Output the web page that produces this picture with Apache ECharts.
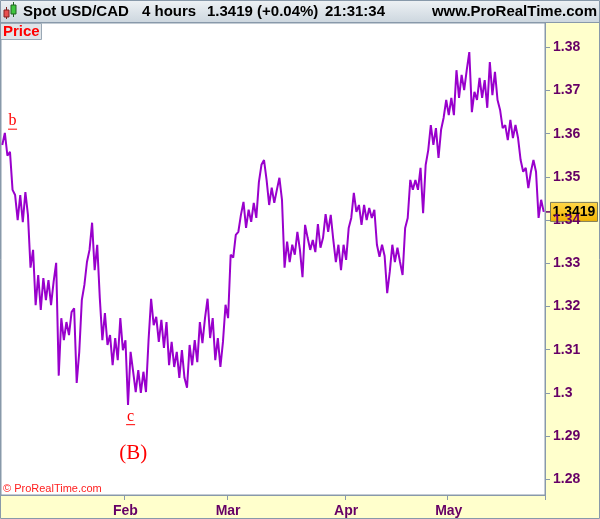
<!DOCTYPE html>
<html><head><meta charset="utf-8">
<script src="https://cdn.jsdelivr.net/npm/echarts@6/dist/echarts.min.js"></script>
<style>html,body{margin:0;padding:0;background:#ffffcc}#c{width:600px;height:519px}</style>
</head><body><div id="c"></div>
<script>
// Trading-day calendar (weekdays only), two half-day slots per day
const firstDay = [2016, 11, 29];
const lastDay = [2017, 4, 25];
const monthStarts = ['2017-02-01', '2017-03-01', '2017-04-03', '2017-05-01'];
const monthLabels = ['Feb', 'Mar', 'Apr', 'May'];
const lastPrice = 1.3419;

// Half-day price readings (alternating local highs / lows), Spot USD/CAD
const prices = [
1.3574,1.3602,1.3549,1.3558,1.3470,1.3458,1.3400,1.3458,1.3395,1.3465,
1.3412,1.3290,1.3331,1.3203,1.3273,1.3192,1.3266,1.3215,1.3261,1.3203,
1.3257,1.3301,1.3040,1.3173,1.3122,1.3164,1.3134,1.3187,1.3196,1.3023,
1.3095,1.3215,1.3250,1.3303,1.3331,1.3394,1.3284,1.3343,1.3220,1.3122,
1.3185,1.3111,1.3134,1.3064,1.3127,1.3076,1.3173,1.3099,1.3122,1.2972,
1.3095,1.3049,1.3002,1.3053,1.3000,1.3049,1.3002,1.3122,1.3218,1.3157,
1.3176,1.3118,1.3169,1.3104,1.3164,1.3064,1.3118,1.3060,1.3095,1.3035,
1.3099,1.3035,1.3012,1.3111,1.3064,1.3122,1.3071,1.3164,1.3115,1.3173,
1.3218,1.3127,1.3173,1.3076,1.3127,1.3060,1.3118,1.3204,1.3173,1.3320,
1.3313,1.3366,1.3373,1.3412,1.3442,1.3382,1.3424,1.3396,1.3440,1.3405,
1.3488,1.3528,1.3539,1.3493,1.3435,1.3475,1.3440,1.3470,1.3498,1.3447,
1.3290,1.3350,1.3303,1.3343,1.3320,1.3373,1.3331,1.3268,1.3389,1.3359,
1.3331,1.3354,1.3326,1.3391,1.3336,1.3359,1.3414,1.3373,1.3412,1.3354,
1.3303,1.3343,1.3284,1.3343,1.3308,1.3382,1.3405,1.3463,1.3419,1.3435,
1.3389,1.3435,1.3400,1.3428,1.3405,1.3424,1.3343,1.3315,1.3343,1.3317,
1.3231,1.3280,1.3343,1.3303,1.3336,1.3303,1.3273,1.3382,1.3405,1.3493,
1.3470,1.3493,1.3470,1.3521,1.3416,1.3528,1.3562,1.3620,1.3574,1.3613,
1.3544,1.3609,1.3637,1.3678,1.3643,1.3683,1.3643,1.3747,1.3683,1.3736,
1.3701,1.3747,1.3789,1.3650,1.3697,1.3678,1.3729,1.3683,1.3724,1.3660,
1.3766,1.3689,1.3743,1.3678,1.3655,1.3613,1.3620,1.3585,1.3632,1.3590,
1.3620,1.3590,1.3539,1.3512,1.3521,1.3474,1.3512,1.3539,1.3512,1.3405,
1.3447,1.3419
];

const categories = [];
(function(){
  let d = new Date(Date.UTC(firstDay[0], firstDay[1], firstDay[2]));
  const end = new Date(Date.UTC(lastDay[0], lastDay[1], lastDay[2]));
  while (d <= end) {
    const wd = d.getUTCDay();
    if (wd !== 0 && wd !== 6) {
      const s = d.toISOString().slice(0, 10);
      categories.push(s + ' 00:00', s + ' 12:00');
    }
    d = new Date(d.getTime() + 86400000);
  }
})();
const isMonthStart = (idx, val) => monthStarts.indexOf(val.slice(0, 10)) >= 0 && val.slice(11) === '00:00';

const FONT = '"Liberation Sans", Arial, sans-serif';
const chart = echarts.init(document.getElementById('c'), null, {renderer: 'canvas'});
const option = {
  animation: false,
  backgroundColor: '#ffffcc',
  grid: {left: 1, top: 23, right: 55, bottom: 24, show: true, backgroundColor: '#ffffff', borderColor: '#8899aa', borderWidth: 1},
  xAxis: {
    type: 'category', data: categories, boundaryGap: true,
    axisLine: {show: true, lineStyle: {color: '#8899aa'}},
    axisTick: {show: true, interval: isMonthStart, length: 5, lineStyle: {color: '#8899aa'}},
    axisLabel: {interval: isMonthStart, margin: 9, color: '#660066', fontWeight: 'bold', fontSize: 14, fontFamily: FONT,
      formatter: v => monthLabels[monthStarts.indexOf(v.slice(0, 10))] || ''},
    splitLine: {show: false}
  },
  yAxis: {
    type: 'value', position: 'right', min: 1.27637, max: 1.385625, splitNumber: 11,
    axisLine: {show: true, lineStyle: {color: '#8899aa'}},
    axisTick: {show: true, length: 5, lineStyle: {color: '#8899aa'}},
    axisLabel: {showMinLabel: false, showMaxLabel: false, margin: 8, color: '#660066', fontWeight: 'bold', fontSize: 14, fontFamily: FONT,
      formatter: v => String(+v.toFixed(2))},
    splitLine: {show: false}
  },
  series: [{
    type: 'line', data: prices, symbol: 'none', showSymbol: false,
    lineStyle: {color: '#9900cc', width: 2}
  }]
};
chart.setOption(option);

function px(i, v) { return chart.convertToPixel({seriesIndex: 0}, [i, v]); }
const pLast = px(prices.length - 1, lastPrice);
const pb = px(4, 1.3629);
const pc = px(50, 1.2945);
const pB = px(51, 1.2859);

const hdrFont = 'bold 15px ' + FONT;
chart.setOption({
  graphic: [
    {type: 'rect', shape: {x: 0, y: 0, width: 600, height: 22}, style: {fill: new echarts.graphic.LinearGradient(0, 0, 0, 1, [{offset: 0, color: '#eef2f5'}, {offset: 1, color: '#cdd7df'}])}},
    {type: 'line', shape: {x1: 0, y1: 22.5, x2: 600, y2: 22.5}, style: {stroke: '#8899aa', lineWidth: 1}},
    // candle icon
    {type: 'line', shape: {x1: 6.5, y1: 7, x2: 6.5, y2: 19}, style: {stroke: '#802020', lineWidth: 1}},
    {type: 'rect', shape: {x: 4, y: 10, width: 5, height: 7}, style: {fill: '#e85050', stroke: '#802020', lineWidth: 1}},
    {type: 'line', shape: {x1: 13.5, y1: 2, x2: 13.5, y2: 17}, style: {stroke: '#206020', lineWidth: 1}},
    {type: 'rect', shape: {x: 11, y: 5, width: 5, height: 9}, style: {fill: '#40c840', stroke: '#206020', lineWidth: 1}},
    {type: 'text', x: 23, y: 12, style: {text: 'Spot USD/CAD', font: hdrFont, fill: '#000', textVerticalAlign: 'middle'}},
    {type: 'text', x: 142, y: 12, style: {text: '4 hours', font: hdrFont, fill: '#000', textVerticalAlign: 'middle'}},
    {type: 'text', x: 207, y: 12, style: {text: '1.3419 (+0.04%)', font: hdrFont, fill: '#000', textVerticalAlign: 'middle'}},
    {type: 'text', x: 325, y: 12, style: {text: '21:31:34', font: hdrFont, fill: '#000', textVerticalAlign: 'middle'}},
    {type: 'text', x: 597, y: 12, style: {text: 'www.ProRealTime.com', font: hdrFont, fill: '#000', textAlign: 'right', textVerticalAlign: 'middle'}},
    // Price tab
    {type: 'rect', shape: {x: 0.5, y: 23.5, width: 41, height: 16}, style: {fill: '#dfe4e8', stroke: '#9aa8b5', lineWidth: 1}},
    {type: 'text', x: 3, y: 32, style: {text: 'Price', font: hdrFont, fill: '#ff0000', textVerticalAlign: 'middle'}},
    // copyright
    {type: 'text', x: 3, y: 489, style: {text: '\u00a9 ProRealTime.com', font: '11px ' + FONT, fill: '#ff2020', textVerticalAlign: 'middle'}},
    // last price box
    {type: 'line', shape: {x1: 545, y1: pLast[1], x2: 550, y2: pLast[1]}, style: {stroke: '#660066', lineWidth: 1.5}},
    {type: 'rect', shape: {x: 550.5, y: pLast[1] - 9.5, width: 47, height: 19}, style: {fill: new echarts.graphic.LinearGradient(0, 0, 0, 1, [{offset: 0, color: '#ffd84a'}, {offset: 1, color: '#f2b400'}]), stroke: '#7a7a5a', lineWidth: 1}},
    {type: 'text', x: 574, y: pLast[1] + 0.5, style: {text: '1.3419', font: 'bold 14px ' + FONT, fill: '#000', textAlign: 'center', textVerticalAlign: 'middle'}},
    // wave labels
    {type: 'text', x: pb[0], y: pb[1], style: {text: 'b', font: '16px "Liberation Serif", "DejaVu Serif", serif', fill: '#ff0000', textAlign: 'center', textVerticalAlign: 'middle'}},
    {type: 'line', shape: {x1: pb[0] - 4.5, y1: pb[1] + 8, x2: pb[0] + 4.5, y2: pb[1] + 8}, style: {stroke: '#ff0000', lineWidth: 1}},
    {type: 'text', x: pc[0], y: pc[1], style: {text: 'c', font: '16px "Liberation Serif", "DejaVu Serif", serif', fill: '#ff0000', textAlign: 'center', textVerticalAlign: 'middle'}},
    {type: 'line', shape: {x1: pc[0] - 4.5, y1: pc[1] + 8, x2: pc[0] + 4.5, y2: pc[1] + 8}, style: {stroke: '#ff0000', lineWidth: 1}},
    {type: 'text', x: pB[0], y: pB[1], style: {text: '(B)', font: '21px "Liberation Serif", "DejaVu Serif", serif', fill: '#ff0000', textAlign: 'center', textVerticalAlign: 'middle'}},
    // outer frame
    {type: 'rect', shape: {x: 0.5, y: 0.5, width: 599, height: 518}, style: {fill: 'none', stroke: '#8899aa', lineWidth: 1}}
  ]
});
</script>
</body></html>
